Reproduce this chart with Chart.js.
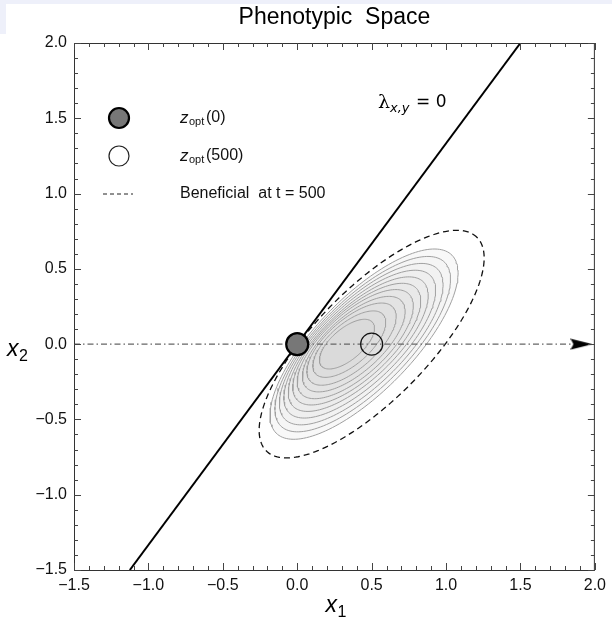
<!DOCTYPE html>
<html><head><meta charset="utf-8">
<script src="https://cdn.jsdelivr.net/npm/chart.js@4.4.1/dist/chart.umd.min.js"></script>
<style>
html,body{margin:0;padding:0;background:#fff;}
#wrap{position:relative;width:612px;height:628px;}
#bandTop{position:absolute;left:0;top:0;width:612px;height:4px;background:#eef0fa;}
#bandLeft{position:absolute;left:0;top:0;width:6px;height:34px;background:#eef0fa;}
canvas{position:absolute;left:0;top:0;}
</style></head><body>
<div id="wrap"><div id="bandTop"></div><div id="bandLeft"></div><canvas id="c" width="612" height="628"></canvas></div>
<script>
// ---- data ----
const xRange = [-1.5, 2.0];
const yRange = [-1.5, 2.0];
const majorStep = 0.5;
const minorStep = 0.1;
const optimumStart = [0.0, 0.0];      // z_opt(0)
const optimumEnd = [0.5, 0.0];        // z_opt(500)
const lambdaLine = [[-1.125, -1.5], [1.5, 2.0]];   // lambda_{x,y}=0
const arrowLine = [[-1.5, 0.0], [1.96, 0.0]];
const arrowHeadAt = [1.91, 0.0];
const beneficialCenter = [0.5, 0.0];
const beneficialHalfWidth = 0.756;
const beneficialAxisRatio = 0.372;
const beneficialTiltDeg = 45;
// inner gray contours, outermost first
const contourCenters    = [0.449, 0.44, 0.43, 0.42, 0.41, 0.40, 0.39, 0.38, 0.365, 0.35, 0.334];
const contourHalfWidths = [0.632, 0.59, 0.55, 0.51, 0.47, 0.43, 0.39, 0.345, 0.30, 0.245, 0.185];
const contourAxisRatios = [0.38, 0.385, 0.39, 0.395, 0.40, 0.41, 0.42, 0.43, 0.44, 0.45, 0.46];
const contourTiltsDeg   = [45, 44.5, 44, 43.5, 43, 42.5, 42, 41.5, 41, 40.5, 40];
const contourShades     = ['#f8f8f8','#f5f5f5','#f2f2f2','#efefef','#ececec','#e9e9e9','#e6e6e6','#e3e3e3','#e0e0e0','#dddddd','#dadada'];

// ---- geometry helper: closed tilted ellipse ----
function ellipsePoints(cx, cy, halfW, r, tiltDeg, n) {
  const t = tiltDeg * Math.PI / 180;
  const c2 = Math.cos(t) ** 2, s2 = Math.sin(t) ** 2;
  const a = halfW / Math.sqrt(c2 + r * r * s2);
  const b = a * r;
  const pts = [];
  for (let i = 0; i <= n; i++) {
    const th = 2 * Math.PI * i / n;
    const u = a * Math.cos(th), v = b * Math.sin(th);
    pts.push({x: cx + u * Math.cos(t) - v * Math.sin(t), y: cy + u * Math.sin(t) + v * Math.cos(t)});
  }
  return pts;
}

// arrow head image
const arrowImg = document.createElement('canvas');
arrowImg.width = 22; arrowImg.height = 12;
(function(){const g = arrowImg.getContext('2d'); g.fillStyle = '#000'; g.beginPath();
  g.moveTo(0,0.5); g.lineTo(22,6); g.lineTo(0,11.5); g.lineTo(3,6); g.closePath(); g.fill();})();

const datasets = [];
datasets.push({label:'beneficial', data: ellipsePoints(beneficialCenter[0], beneficialCenter[1], beneficialHalfWidth, beneficialAxisRatio, beneficialTiltDeg, 200),
  borderColor:'#111', borderWidth:1.3, borderDash:[6,4], pointRadius:0, fill:false, order:50});
contourCenters.forEach((cx, i) => {
  datasets.push({label:'c'+i, data: ellipsePoints(cx, 0, contourHalfWidths[i], contourAxisRatios[i], contourTiltsDeg[i], 160),
    borderColor:'#a0a0a0', borderWidth:1, pointRadius:0, fill:'shape', backgroundColor: contourShades[i], order:40 - i});
});
datasets.push({label:'axisArrow', data: arrowLine.map(p=>({x:p[0],y:p[1]})), borderColor:'#666', borderWidth:1.4,
  borderDash:[6,3,1.5,3], pointRadius:0, fill:false, order:10});
datasets.push({label:'arrowHead', data:[{x:arrowHeadAt[0], y:arrowHeadAt[1]}], showLine:false, pointStyle: arrowImg,
  pointRadius: 10, order:9});
datasets.push({label:'lambda', data: lambdaLine.map(p=>({x:p[0],y:p[1]})), borderColor:'#000', borderWidth:2,
  pointRadius:0, fill:false, order:5});
datasets.push({label:'zopt500', data:[{x:optimumEnd[0], y:optimumEnd[1]}], showLine:false, pointRadius:11,
  pointBackgroundColor:'rgba(255,255,255,0)', pointBorderColor:'#111', pointBorderWidth:1.2, order:2});
datasets.push({label:'zopt0', data:[{x:optimumStart[0], y:optimumStart[1]}], showLine:false, pointRadius:11,
  pointBackgroundColor:'#777', pointBorderColor:'#000', pointBorderWidth:2.2, order:1});

const fmt = v => (v < 0 ? '\u2212' : '') + Math.abs(v).toFixed(1);

const decor = {
  id:'decor',
  afterDatasetsDraw(chart) {
    const {ctx, chartArea: ca, scales:{x, y}} = chart;
    ctx.save();
    // frame
    ctx.strokeStyle = '#333'; ctx.lineWidth = 1;
    ctx.strokeRect(ca.left + 0.5, ca.top + 0.5, ca.right - ca.left - 1, ca.bottom - ca.top);
    // inward ticks
    ctx.strokeStyle = '#444';
    const nMin = Math.round((xRange[1] - xRange[0]) / minorStep);
    for (let i = 0; i <= nMin; i++) {
      const v = xRange[0] + i * minorStep;
      const major = Math.abs(v / majorStep - Math.round(v / majorStep)) < 1e-6;
      const len = major ? 7 : 4;
      const px = Math.round(x.getPixelForValue(v)) + 0.5;
      ctx.beginPath(); ctx.moveTo(px, ca.bottom); ctx.lineTo(px, ca.bottom - len);
      ctx.moveTo(px, ca.top); ctx.lineTo(px, ca.top + len); ctx.stroke();
      const vy = yRange[0] + i * minorStep;
      const py = Math.round(y.getPixelForValue(vy)) + 0.5;
      ctx.beginPath(); ctx.moveTo(ca.left, py); ctx.lineTo(ca.left + len, py);
      ctx.moveTo(ca.right, py); ctx.lineTo(ca.right - len, py); ctx.stroke();
    }
    // title
    ctx.fillStyle = '#000'; ctx.textAlign = 'center'; ctx.textBaseline = 'middle';
    ctx.font = '23px "Liberation Sans", Arial, sans-serif';
    ctx.fillText('Phenotypic  Space', (ca.left + ca.right) / 2, 18);
    // axis titles
    ctx.font = 'italic 23px "Liberation Sans", Arial, sans-serif';
    ctx.textAlign = 'left';
    const xm = (ca.left + ca.right) / 2;
    ctx.fillText('x', xm - 9, 606);
    ctx.fillText('x', 7, 350);
    ctx.font = '16px "Liberation Sans", Arial, sans-serif';
    ctx.fillText('1', xm + 3, 613);
    ctx.fillText('2', 19, 357);
    // lambda label
    const lx = 378, ly = 103;
    ctx.font = '19px "DejaVu Serif", serif';
    ctx.fillText('\u03BB', lx, ly);
    ctx.font = 'italic 13px "DejaVu Sans", sans-serif';
    ctx.fillText('x,y', lx + 12, ly + 6);
    ctx.font = '17px "DejaVu Sans", sans-serif';
    ctx.fillText('= 0', lx + 38, ly);
    // legend
    const mx = ca.left + 45, tx = ca.left + 106;
    const r1 = ca.top + 75, r2 = ca.top + 113, r3 = ca.top + 151;
    ctx.beginPath(); ctx.arc(mx, r1, 10, 0, 2 * Math.PI); ctx.fillStyle = '#777'; ctx.fill();
    ctx.lineWidth = 2.2; ctx.strokeStyle = '#000'; ctx.stroke();
    ctx.beginPath(); ctx.arc(mx, r2, 10, 0, 2 * Math.PI); ctx.fillStyle = '#fff'; ctx.fill();
    ctx.lineWidth = 1.2; ctx.strokeStyle = '#222'; ctx.stroke();
    ctx.beginPath(); ctx.setLineDash([4, 3]); ctx.lineWidth = 1; ctx.strokeStyle = '#222';
    ctx.moveTo(mx - 16, r3); ctx.lineTo(mx + 14, r3); ctx.stroke(); ctx.setLineDash([]);
    ctx.fillStyle = '#111';
    [[r1, '(0)'], [r2, '(500)']].forEach(([ry, s]) => {
      ctx.font = 'italic 17px "Liberation Sans", Arial, sans-serif';
      ctx.fillText('z', tx, ry);
      ctx.font = '11px "Liberation Sans", Arial, sans-serif';
      ctx.fillText('opt', tx + 9, ry + 4);
      ctx.font = '16px "Liberation Sans", Arial, sans-serif';
      ctx.fillText(s, tx + 26, ry);
    });
    ctx.font = '16px "Liberation Sans", Arial, sans-serif';
    ctx.fillText('Beneficial  at t = 500', tx, r3);
    ctx.restore();
  }
};

new Chart(document.getElementById('c'), {
  type: 'line',
  data: { datasets },
  options: {
    responsive: false, animation: false,
    events: [],
    layout: { padding: { top: 43, right: 12, left: 0, bottom: 0 } },
    plugins: { legend: { display: false }, tooltip: { enabled: false } },
    elements: { line: { tension: 0 } },
    scales: {
      x: { type: 'linear', min: xRange[0], max: xRange[1],
        ticks: { stepSize: majorStep, callback: fmt, padding: 6, color: '#111',
          font: { family: '"Liberation Sans", Arial, sans-serif', size: 16 } },
        grid: { display: false, drawTicks: false }, border: { display: false },
        afterFit: s => { s.height = 58; } },
      y: { type: 'linear', min: yRange[0], max: yRange[1],
        ticks: { stepSize: majorStep, callback: fmt, padding: 7, color: '#111',
          font: { family: '"Liberation Sans", Arial, sans-serif', size: 16 } },
        grid: { display: false, drawTicks: false }, border: { display: false },
        afterFit: s => { s.width = 74; } }
    }
  },
  plugins: [decor]
});
</script>
</body></html>
